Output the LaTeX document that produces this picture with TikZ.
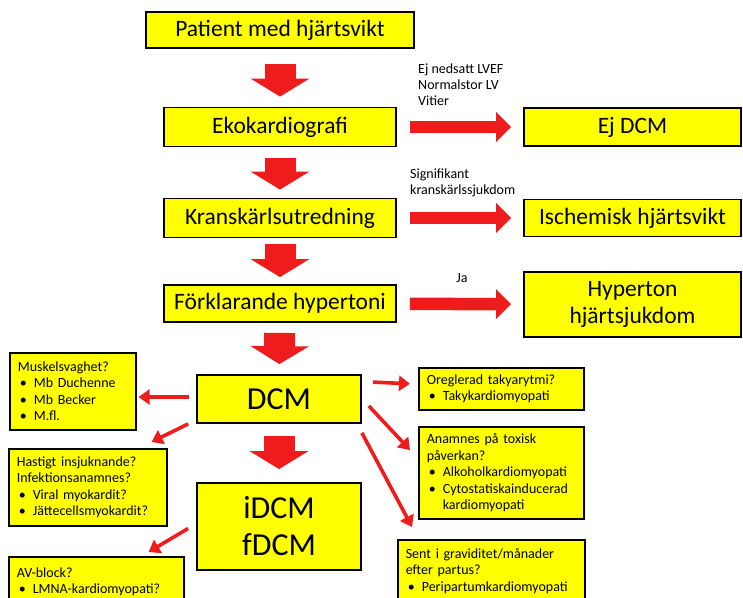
\documentclass[tikz,border=0pt]{standalone}
\usepackage{fontspec}
\setmainfont{Carlito}
\usepackage{tikz}
\usetikzlibrary{positioning, arrows.meta, calc}
\definecolor{boxyellow}{HTML}{FFFF00}
\definecolor{flowred}{HTML}{EE1C1C}
\newcommand{\bitem}[1]{\hspace*{2pt}\makebox[14pt][l]{\textbullet}#1}
\newcommand{\bcont}[1]{\hspace*{16pt}#1}

\begin{document}
\begin{tikzpicture}[x=1pt, y=-1pt,
  mainbox/.style={draw, line width=1.8pt, fill=boxyellow, align=center,
                  inner sep=0pt, font=\fontsize{23.5}{27}\selectfont},
  bigbox/.style={mainbox, font=\fontsize{32}{37}\selectfont},
  infobox/.style={draw, line width=1.6pt, fill=boxyellow, anchor=north west,
                  align=left, inner xsep=8pt, inner ysep=4pt,
                  font=\fontsize{14}{16.5}\selectfont},
  label/.style={anchor=north west, align=left, inner sep=0pt,
                font=\fontsize{14}{16}\selectfont},
  fatdown/.style={flowred, line width=31pt, -{Triangle[length=18pt, width=58pt]}},
  fatright/.style={flowred, line width=12.5pt, -{Triangle[length=15pt, width=29pt]},
                   shorten <=13pt, shorten >=12pt},
  thinarrow/.style={flowred, line width=3.6pt, -{Triangle[length=11pt, width=15pt]}}
]
  \useasboundingbox (0,0) rectangle (743,597);

  \node[mainbox, minimum width=268pt, minimum height=36pt] (pat)   at (280,30)    {Patient med hjärtsvikt};
  \node[mainbox, minimum width=232pt, minimum height=39pt] (eko)   at (280,127)   {Ekokardiografi};
  \node[mainbox, minimum width=232pt, minimum height=39pt] (krans) at (280,218)   {Kranskärlsutredning};
  \node[mainbox, minimum width=232pt, minimum height=37pt] (forkl) at (280,303.5) {Förklarande hypertoni};
  \node[bigbox,  minimum width=164pt, minimum height=48pt] (dcm)   at (279,399)   {DCM};
  \node[bigbox,  minimum width=164pt, minimum height=87pt] (idcm)  at (279,526.5) {iDCM\\fDCM};

  \node[mainbox, minimum width=217pt, minimum height=38pt] (ejdcm) at (632.5,127)   {Ej DCM};
  \node[mainbox, minimum width=217pt, minimum height=37pt] (isch)  at (632.5,218)   {Ischemisk hjärtsvikt};
  \node[mainbox, minimum width=217pt, minimum height=65pt] (hyp)   at (632.5,304.5) {Hyperton\\hjärtsjukdom};

  \node[label] (lbleko)   at (418,64)  {Ej nedsatt LVEF\\Normalstor LV\\Vitier};
  \node[label] (lblkrans) at (410,169) {Signifikant\\kranskärlssjukdom};
  \node[label, anchor=center] (lblja) at (462,278) {Ja};

  \node[infobox, text width=110pt, minimum height=77pt] (musk) at (9,352)
    {Muskelsvaghet?\\\bitem{Mb Duchenne}\\\bitem{Mb Becker}\\\bitem{M.fl.}};
  \node[infobox, text width=142pt, minimum height=77pt] (hast) at (8,448)
    {Hastigt insjuknande?\\Infektionsanamnes?\\\bitem{Viral myokardit?}\\\bitem{Jättecellsmyokardit?}};
  \node[infobox, text width=159pt, minimum height=50pt] (av) at (8,556)
    {AV-block?\\\bitem{LMNA-kardiomyopati?}};
  \node[infobox, text width=149pt, minimum height=42pt] (oreg) at (418,367)
    {Oreglerad takyarytmi?\\\bitem{Takykardiomyopati}};
  \node[infobox, text width=149pt, minimum height=92pt] (anam) at (418,426)
    {Anamnes på toxisk\\påverkan?\\\bitem{Alkoholkardiomyopati}\\\bitem{Cytostatiskainducerad}\\\bcont{kardiomyopati}};
  \node[infobox, text width=171pt, minimum height=62pt] (sent) at (397,539)
    {Sent i graviditet/månader\\efter partus?\\\bitem{Peripartumkardiomyopati}};

  \draw[fatdown, shorten <=15pt, shorten >=10pt] (pat)   -- (eko);
  \draw[fatdown, shorten <=11pt, shorten >=8pt]  (eko)   -- (krans);
  \draw[fatdown, shorten <=6pt,  shorten >=7pt]  (krans) -- (forkl);
  \draw[fatdown, shorten <=10pt, shorten >=10pt] (forkl) -- (dcm);
  \draw[fatdown, shorten <=12pt, shorten >=13pt] (dcm)   -- (idcm);

  \draw[fatright] (eko)   -- (ejdcm);
  \draw[fatright] (krans) -- (isch);
  \draw[fatright] (forkl) -- (hyp);

  \draw[thinarrow, shorten <=7pt, shorten >=2pt] ($(dcm.west)+(0,-2)$) -- ($(dcm.west -| musk.east)+(0,-2)$);
  \draw[thinarrow] ($(dcm.south west)+(-8,0)$) -- ($(hast.north east)+(-16,-6)$);
  \draw[thinarrow] ($(idcm.west)+(-8,2)$) -- ($(av.north east)+(-36,-4)$);
  \draw[thinarrow] ($(dcm.north east)+(11,8)$) -- ($(oreg.west)+(-8,-5)$);
  \draw[thinarrow] ($(dcm.east)+(7,7)$) -- ($(anam.north west)+(-8,24)$);
  \draw[thinarrow] ($(dcm.south east)+(0,9)$) -- ($(sent.north west)+(15,-12)$);
\end{tikzpicture}
\end{document}
